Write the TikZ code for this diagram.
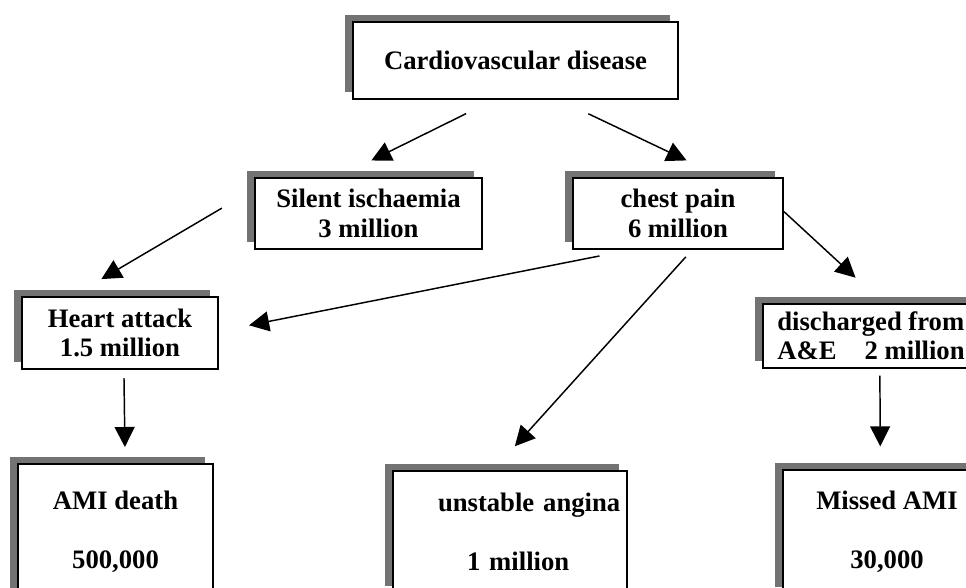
\documentclass[tikz,border=0pt]{standalone}
\usepackage{fontspec}
\setmainfont{Liberation Serif}
\usetikzlibrary{arrows.meta,shadows}

\begin{document}
\begin{tikzpicture}[x=0.75pt,y=-0.75pt,
    box/.style={draw, line width=1.5pt, fill=white, inner sep=0pt, align=center,
        font=\fontsize{20}{22}\selectfont\bfseries,
        drop shadow={shadow xshift=-6pt, shadow yshift=5.25pt, fill=black!55, opacity=1}},
    arr/.style={line width=1.1pt, -{Triangle[length=15pt,width=15pt]}}]
    \clip (0,0) rectangle (966,587);
    \fill[white] (0,0) rectangle (966,587);

    % Boxes
    \node[box, minimum width=243.75pt, minimum height=57.75pt] (cvd) at (515.5,60.5) {Cardiovascular disease};
    \node[box, minimum width=170.25pt, minimum height=53.25pt] (silent) at (368.5,213.5) {Silent ischaemia\\3 million};
    \node[box, minimum width=157.5pt, minimum height=53.25pt] (chest) at (678,213.5) {chest pain\\6 million};
    \node[box, minimum width=147pt, minimum height=54pt] (heart) at (120,333) {Heart attack\\1.5 million};
    \node[box, align=left, minimum width=162pt, minimum height=48pt] (disch) at (871,336) {discharged from\\A\&E\hspace{21pt}2 million};
    \node[box, minimum width=146.25pt, minimum height=101.25pt] (ami) at (115.5,531.5) {AMI death\\[22pt]500,000};
    \node[box, align=left, text width=175.5pt, minimum height=91.5pt] (angina) at (510,532) {\hspace*{33.75pt}unstable angina\\[22pt]\hspace*{55.5pt}1 million};
    \node[box, minimum width=156pt, minimum height=93pt] (missed) at (887,532) {Missed AMI\\[22pt]30,000};

    % Arrows
    \draw[arr, shorten <=23pt, shorten >=28pt] (cvd.241.6) -- (silent.130.3);
    \draw[arr, shorten <=24pt, shorten >=29pt] (cvd.318.1) -- (chest.40.4);
    \draw[arr, shorten <=28pt, shorten >=25pt] (silent.168.4) -- (heart.142.5);
    \draw[arr, shorten <=23pt, shorten >=23pt] (chest.217.8) -- (heart.1.2);
    \draw[arr, shorten <=7pt, shorten >=24pt] (chest.291.9) -- (angina.105.1);
    \draw[arr, shorten >=28pt] (chest.1.9) -- (disch.70.2);
    \draw[arr, shorten <=6pt, shorten >=12pt] (heart.276.3) -- (ami.82.8);
    \draw[arr, shorten <=5pt, shorten >=17pt] (disch.285.7) -- (missed.96.4);
\end{tikzpicture}
\end{document}
